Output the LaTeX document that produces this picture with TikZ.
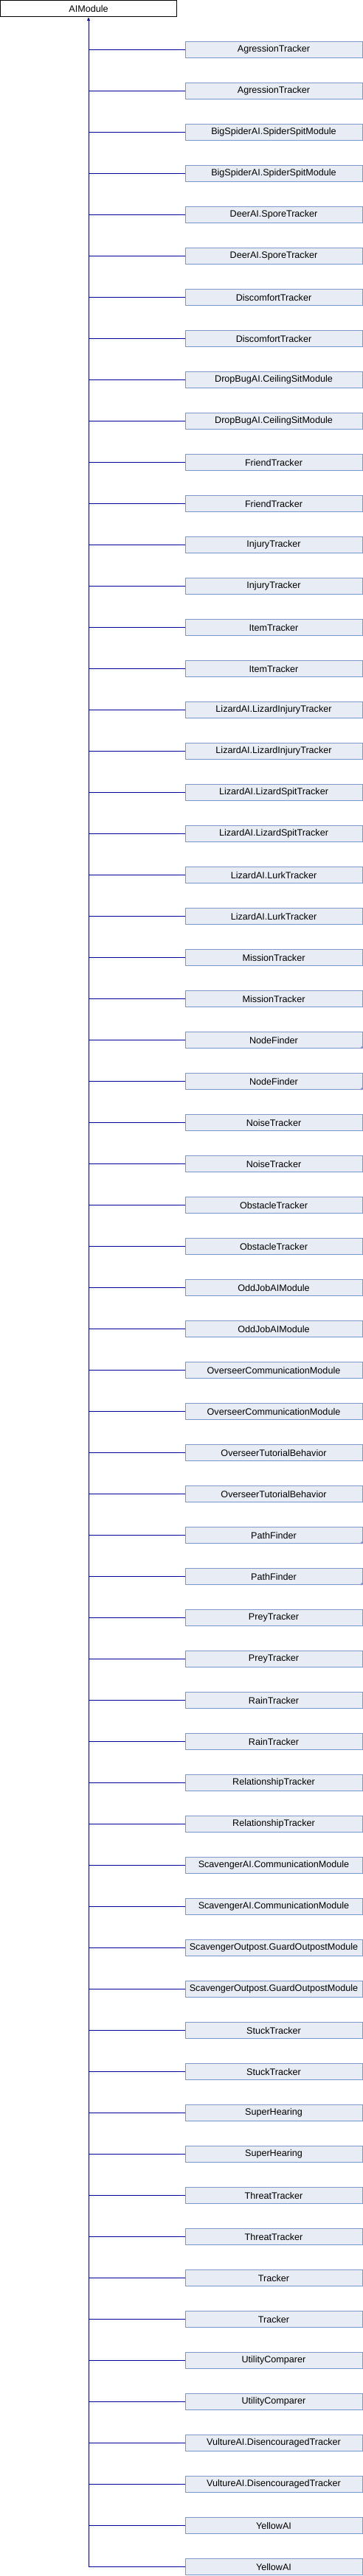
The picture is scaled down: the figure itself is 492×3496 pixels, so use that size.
\documentclass[tikz,border=0pt]{standalone}
\usepackage{fontspec}
\setmainfont{Liberation Sans}
\usetikzlibrary{arrows.meta, positioning}

\definecolor{boxfill}{RGB}{232,236,244}
\definecolor{boxline}{RGB}{126,150,200}
\definecolor{linkblue}{RGB}{0,0,160}

\begin{document}
\begin{tikzpicture}[x=1pt, y=1pt, node distance=56pt, font=\fontsize{12.6}{14}\selectfont,
  base node/.style={draw=black, fill=white, line width=1pt, minimum width=239pt, minimum height=22pt, inner sep=0pt},
  class node/.style={draw=boxline, fill=boxfill, line width=1pt, minimum width=240pt, minimum height=22pt, inner sep=0pt},
  link/.style={draw=linkblue, line width=1pt}]
\useasboundingbox (0,0) rectangle (492,-3496);
\node[base node](0) at (120,-11.5) {AIModule};
\foreach \name/\more [count=\n, remember=\n as \p (initially 0)] in {
    AgressionTracker/0, AgressionTracker/0,
    BigSpiderAI.SpiderSpitModule/0, BigSpiderAI.SpiderSpitModule/0,
    DeerAI.SporeTracker/0, DeerAI.SporeTracker/0,
    DiscomfortTracker/0, DiscomfortTracker/0,
    DropBugAI.CeilingSitModule/0, DropBugAI.CeilingSitModule/0,
    FriendTracker/0, FriendTracker/0,
    InjuryTracker/0, InjuryTracker/0,
    ItemTracker/0, ItemTracker/0,
    LizardAI.LizardInjuryTracker/0, LizardAI.LizardInjuryTracker/0,
    LizardAI.LizardSpitTracker/0, LizardAI.LizardSpitTracker/0,
    LizardAI.LurkTracker/0, LizardAI.LurkTracker/0,
    MissionTracker/0, MissionTracker/0,
    NodeFinder/1, NodeFinder/1,
    NoiseTracker/0, NoiseTracker/0,
    ObstacleTracker/0, ObstacleTracker/0,
    OddJobAIModule/0, OddJobAIModule/0,
    OverseerCommunicationModule/0, OverseerCommunicationModule/0,
    OverseerTutorialBehavior/0, OverseerTutorialBehavior/0,
    PathFinder/1, PathFinder/1,
    PreyTracker/0, PreyTracker/0,
    RainTracker/0, RainTracker/0,
    RelationshipTracker/0, RelationshipTracker/0,
    ScavengerAI.CommunicationModule/0, ScavengerAI.CommunicationModule/0,
    ScavengerOutpost.GuardOutpostModule/0, ScavengerOutpost.GuardOutpostModule/0,
    StuckTracker/0, StuckTracker/0,
    SuperHearing/0, SuperHearing/0,
    ThreatTracker/0, ThreatTracker/0,
    Tracker/0, Tracker/0,
    UtilityComparer/0, UtilityComparer/0,
    VultureAI.DisencouragedTracker/0, VultureAI.DisencouragedTracker/0,
    YellowAI/0, YellowAI/0}{
    \ifnum\n=1
        \node[class node] (\n) at (371,-67.5) {\name};
    \else
        \node[class node] (\n) [below of = \p] {\name};
    \fi
    \ifnum\more=1
        \fill[boxline] (\n.south east) -- ++(-4,0) -- ++(4,4) -- cycle;
    \fi
    \draw[link] (\n.west) -- (\n.west -| 0.south);}
\coordinate (end) at (0.south |- 62.west);
\draw[link, {Latex[length=5pt, width=4.5pt]}-] (0.south) -- (end);
\end{tikzpicture}
\end{document}
